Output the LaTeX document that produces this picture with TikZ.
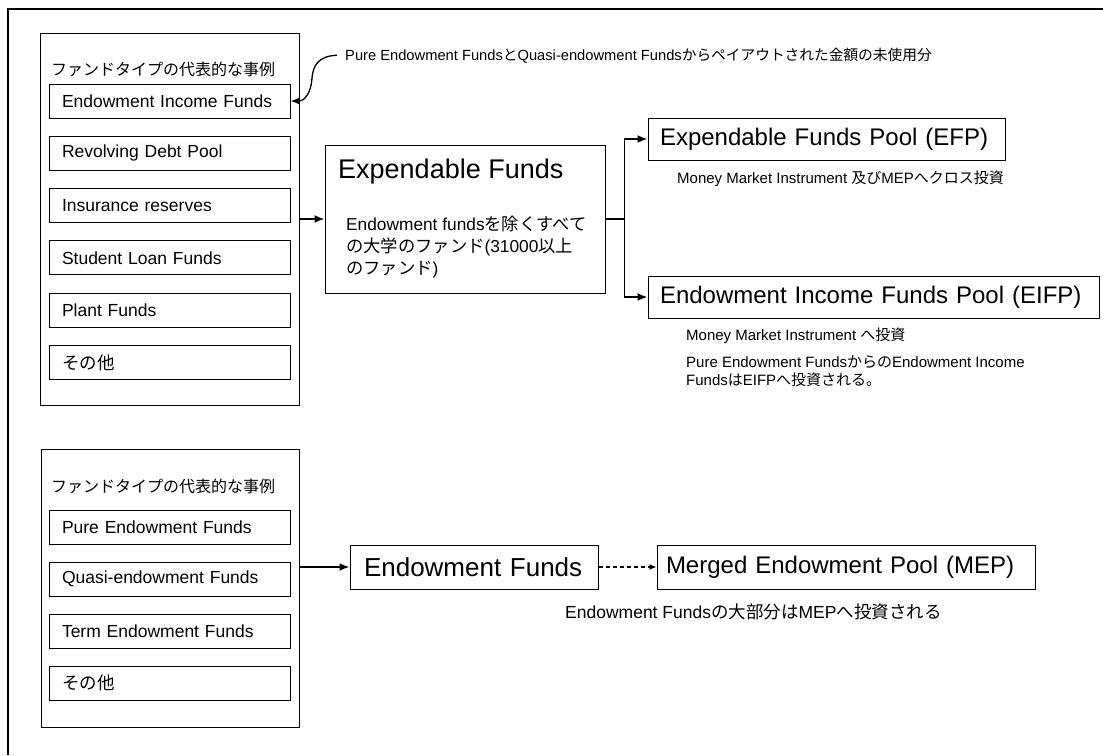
\documentclass[tikz,border=0pt]{standalone}
\usepackage{fontspec}
\setmainfont{Liberation Sans}
\newfontfamily\jpf{Noto Sans CJK JP}
\newcommand{\J}[1]{{\jpf #1}}
\newcommand{\fs}[1]{\fontsize{#1}{#1}\selectfont}
\usetikzlibrary{arrows.meta}
\begin{document}
\begin{tikzpicture}[x=1pt,y=-1pt,
  grp/.style={draw, line width=0.9pt, inner sep=0pt},
  item/.style={draw, line width=1pt, minimum width=241pt, minimum height=34pt, text width=215pt, align=left, inner sep=0pt, font=\fs{17.5}},
  box/.style={draw, line width=1pt, inner sep=0pt, align=left},
  arr/.style={line width=1.8pt, -{Latex[length=10pt,width=8pt]}},
  txt/.style={inner sep=0pt, anchor=base west}]
\useasboundingbox (0,0) rectangle (1103,755);
\fill[white] (0,0) rectangle (1103,755);
\draw[line width=2pt] (8,755) -- (8,9) -- (1103,9);

% upper group
\node[grp, minimum width=259pt, minimum height=372pt] (ug) at (169.5,219) {};
\node[txt, font=\fs{16}\jpf] (ut) at (51,75) {ファンドタイプの代表的な事例};
\node[item] (u1) at (169.5,101) {Endowment Income Funds};
\node[item] (u2) at (169.5,153.3) {Revolving Debt Pool};
\node[item] (u3) at (169.5,205.6) {Insurance reserves};
\node[item] (u4) at (169.5,257.9) {Student Loan Funds};
\node[item] (u5) at (169.5,310.2) {Plant Funds};
\node[item] (u6) at (169.5,362.5) {\J{その他}};

% top note
\node[txt, font=\fs{14.7}] (n0) at (345,60) {Pure Endowment Funds\J{と}Quasi-endowment Funds\J{からペイアウトされた金額の未使用分}};
\draw[line width=1.3pt, -{Latex[length=9pt,width=7pt]}] ([xshift=-8pt]n0.west) .. controls (318,56) and (313,66) .. (312,78) .. controls (311,94) and (304,101) .. (u1.east);

% expendable funds
\node[box, minimum width=280pt, minimum height=148pt] (exp) at (465,219) {};
\node[txt, font=\fs{27}] (expt) at (338,178) {Expendable Funds};
\node[txt, font=\fs{17.3}] (eb1) at (346,230) {Endowment funds\J{を除くすべて}};
\node[txt, font=\fs{17.3}] (eb2) at (346,252) {\J{の大学のファンド}(31000\J{以上}};
\node[txt, font=\fs{17.3}] (eb3) at (346,274) {\J{のファンド})};

\node[box, minimum width=357pt, minimum height=42pt, text width=333pt, font=\fs{24}] (efp) at (826.5,139) {Expendable Funds Pool (EFP)};
\node[box, minimum width=451pt, minimum height=42pt, text width=427pt, font=\fs{24}] (eifp) at (873.5,297) {Endowment Income Funds Pool (EIFP)};
\node[txt, font=\fs{15}] (n1) at (677,183) {Money Market Instrument \J{及び}MEP\J{へクロス投資}};
\node[txt, font=\fs{15}] (n2) at (686,340) {Money Market Instrument \J{へ投資}};
\node[txt, font=\fs{15}] (n3) at (686,367) {Pure Endowment Funds\J{からの}Endowment Income};
\node[txt, font=\fs{15}] (n4) at (686,385) {Funds\J{は}EIFP\J{へ投資される。}};

\draw[arr] (exp.west -| ug.east) -- (exp.west);
\draw[line width=1.8pt] (exp.east) -- ++(19,0) coordinate (jn);
\draw[arr] (jn) |- (efp.west);
\draw[arr] (jn) |- (eifp.west);

% lower group
\node[grp, minimum width=258pt, minimum height=278pt] (lg) at (170,588) {};
\node[txt, font=\fs{16}\jpf] (lt) at (51,492) {ファンドタイプの代表的な事例};
\node[item] (l1) at (169.5,527) {Pure Endowment Funds};
\node[item] (l2) at (169.5,579) {Quasi-endowment Funds};
\node[item] (l3) at (169.5,631) {Term Endowment Funds};
\node[item] (l4) at (169.5,683) {\J{その他}};

\node[box, minimum width=248pt, minimum height=44pt, text width=220pt, font=\fs{26}] (ef) at (474,567) {Endowment Funds};
\node[box, minimum width=378pt, minimum height=44pt, text width=360pt, font=\fs{24}] (mep) at (846,567) {Merged Endowment Pool (MEP)};
\node[txt, font=\fs{17.5}] (n5) at (565,618) {Endowment Funds\J{の大部分は}MEP\J{へ投資される}};

\draw[arr] (ef.west -| lg.east) -- (ef.west);
\draw[line width=1.2pt, dash pattern=on 4pt off 3pt, -{Latex[length=7pt,width=6pt]}] (ef.east) -- (mep.west);
\end{tikzpicture}
\end{document}
